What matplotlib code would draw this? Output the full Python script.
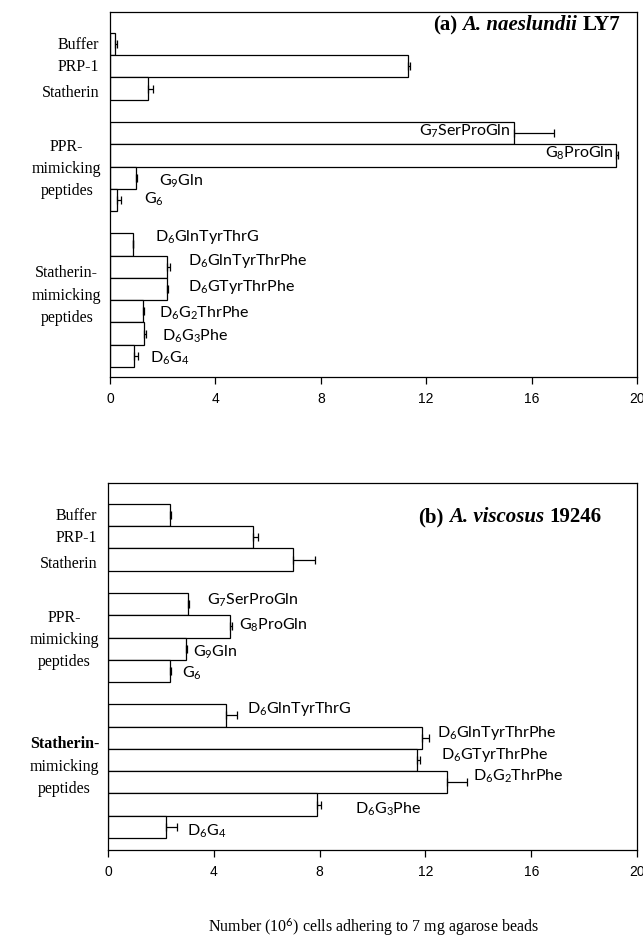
import numpy as np
import matplotlib
matplotlib.use('Agg')
import matplotlib.pyplot as plt

plt.rcParams['mathtext.fontset'] = 'custom'
plt.rcParams['mathtext.rm'] = 'Lato'
plt.rcParams['mathtext.it'] = 'Lato:italic'
plt.rcParams['mathtext.bf'] = 'Lato:bold'

# rows: 3 controls, 4 PPR peptides, 6 statherin peptides
controls = ['Buffer', 'PRP-1', 'Statherin']
ppr_peptides = ['G$_7$SerProGln', 'G$_8$ProGln', 'G$_9$Gln', 'G$_6$']
stath_peptides = ['D$_6$GlnTyrThrG', 'D$_6$GlnTyrThrPhe', 'D$_6$GTyrThrPhe',
                  'D$_6$G$_2$ThrPhe', 'D$_6$G$_3$Phe', 'D$_6$G$_4$']

naes_mean = [0.2, 11.3, 1.45, 15.35, 19.2, 1.0, 0.28, 0.86, 2.18, 2.18, 1.27, 1.3, 0.92]
naes_err = [0.08, 0.1, 0.17, 1.5, 0.08, 0.03, 0.12, 0.02, 0.1, 0.03, 0.03, 0.07, 0.15]
visc_mean = [2.34, 5.48, 6.99, 3.04, 4.6, 2.94, 2.34, 4.46, 11.87, 11.68, 12.8, 7.92, 2.2]
visc_err = [0.04, 0.18, 0.83, 0.03, 0.08, 0.03, 0.06, 0.4, 0.28, 0.12, 0.76, 0.12, 0.42]

xticks = [0, 4, 8, 12, 16, 20]

# label placement for peptide names: (x in data units, y shift in rows, ha)
naes_lbl = [(15.2, 0, 'right'), (19.1, 0, 'right'), (1.85, 0.22, 'left'), (1.3, 0.05, 'left'),
            (1.7, -0.27, 'left'), (2.96, -0.18, 'left'), (2.96, 0, 'left'),
            (1.86, 0.18, 'left'), (1.97, 0.18, 'left'), (1.52, 0.18, 'left')]
visc_lbl = [(3.73, -0.1, 'left'), (4.94, 0.05, 'left'), (3.23, 0.22, 'left'), (2.78, 0.18, 'left'),
            (5.25, -0.22, 'left'), (12.45, -0.13, 'left'), (12.6, -0.13, 'left'),
            (13.8, -0.18, 'left'), (9.35, 0.27, 'left'), (3.0, 0.27, 'left')]

group_sizes = [len(controls), len(ppr_peptides), len(stath_peptides)]
rows = []
start = 0
for n in group_sizes:
    rows += list(range(start, start + n))
    start += n + 1
rows = np.array(rows)

fig = plt.figure(figsize=(6.43, 9.38), dpi=100)
ax_a = fig.add_axes([110/643, 561/938, 527/643, 365/938])
ax_b = fig.add_axes([108/643, 88/938, 529/643, 367/938])

serif = 'Liberation Serif'


def draw_title(ax, pieces, x, y):
    fig.canvas.draw()
    r = fig.canvas.get_renderer()
    # right to left, gap = space left of each piece
    cur = ax.transAxes.transform((x, y))
    for txt, style, gap in reversed(pieces):
        xa, ya = ax.transAxes.inverted().transform(cur)
        t = ax.text(xa, ya, txt, transform=ax.transAxes, ha='right', va='center',
                    family=serif, fontsize=15, fontweight='bold', fontstyle=style)
        bb = t.get_window_extent(renderer=r)
        cur = (bb.x0 - gap, cur[1])


def panel(ax, means, errs, lbls, bottom_pad, title_pieces, tx, ty, bold_stath=False):
    ax.barh(rows, means, height=1.0, color='white', edgecolor='black', linewidth=0.9)
    ax.errorbar(means, rows, xerr=[np.zeros(len(errs)), errs], fmt='none',
                ecolor='black', elinewidth=0.9, capsize=3, capthick=0.9)
    ax.set_xlim(0, 20)
    ax.set_ylim(rows[-1] + 0.5 + bottom_pad, -1.44)
    ax.set_yticks([])
    ax.set_xticks(xticks)
    ax.set_xticklabels([str(v) for v in xticks], family='Liberation Sans', fontsize=10)
    ax.tick_params(axis='x', direction='out', length=5, width=0.9, pad=6)
    for s in ax.spines.values():
        s.set_linewidth(0.9)

    names = ppr_peptides + stath_peptides
    pep_rows = rows[len(controls):]
    for name, r, (lx, dy, ha) in zip(names, pep_rows, lbls):
        ax.text(lx, r + dy - 0.08, name, ha=ha, va='center', family='Lato', fontsize=11.5)

    ytr = ax.get_yaxis_transform()
    for name, dy in zip(controls, [0.05, 1.05, 2.2]):
        ax.text(-0.02, dy, name, transform=ytr, ha='right', va='center',
                family=serif, fontsize=11.5)
    for i, line in enumerate(['PPR-', 'mimicking', 'peptides']):
        ax.text(-0.082, 4.6 + i, line, transform=ytr, ha='center', va='center',
                family=serif, fontsize=11.5)
    for i, line in enumerate(['Statherin-', 'mimicking', 'peptides']):
        w = 'bold' if (bold_stath and i == 0) else 'normal'
        ax.text(-0.082, 10.3 + i, line, transform=ytr, ha='center', va='center',
                family=serif, fontsize=11.5, fontweight=w)

    draw_title(ax, title_pieces, tx, ty)


panel(ax_a, naes_mean, naes_err, naes_lbl, 0.45,
      [('(a)', 'normal', 0), ('A. naeslundii', 'italic', 5), ('LY7', 'normal', 5)],
      0.968, 0.964)
panel(ax_b, visc_mean, visc_err, visc_lbl, 0.54,
      [('(b)', 'normal', 0), ('A. viscosus', 'italic', 5), ('19246', 'normal', 5)],
      0.932, 0.907, bold_stath=True)

fig.text((110 + 637) / 2 / 643, 1 - 927/938, 'Number (10$^6$) cells adhering to 7 mg agarose beads',
         ha='center', va='center', family=serif, fontsize=11.5)

fig.savefig('out.png', dpi=100)
